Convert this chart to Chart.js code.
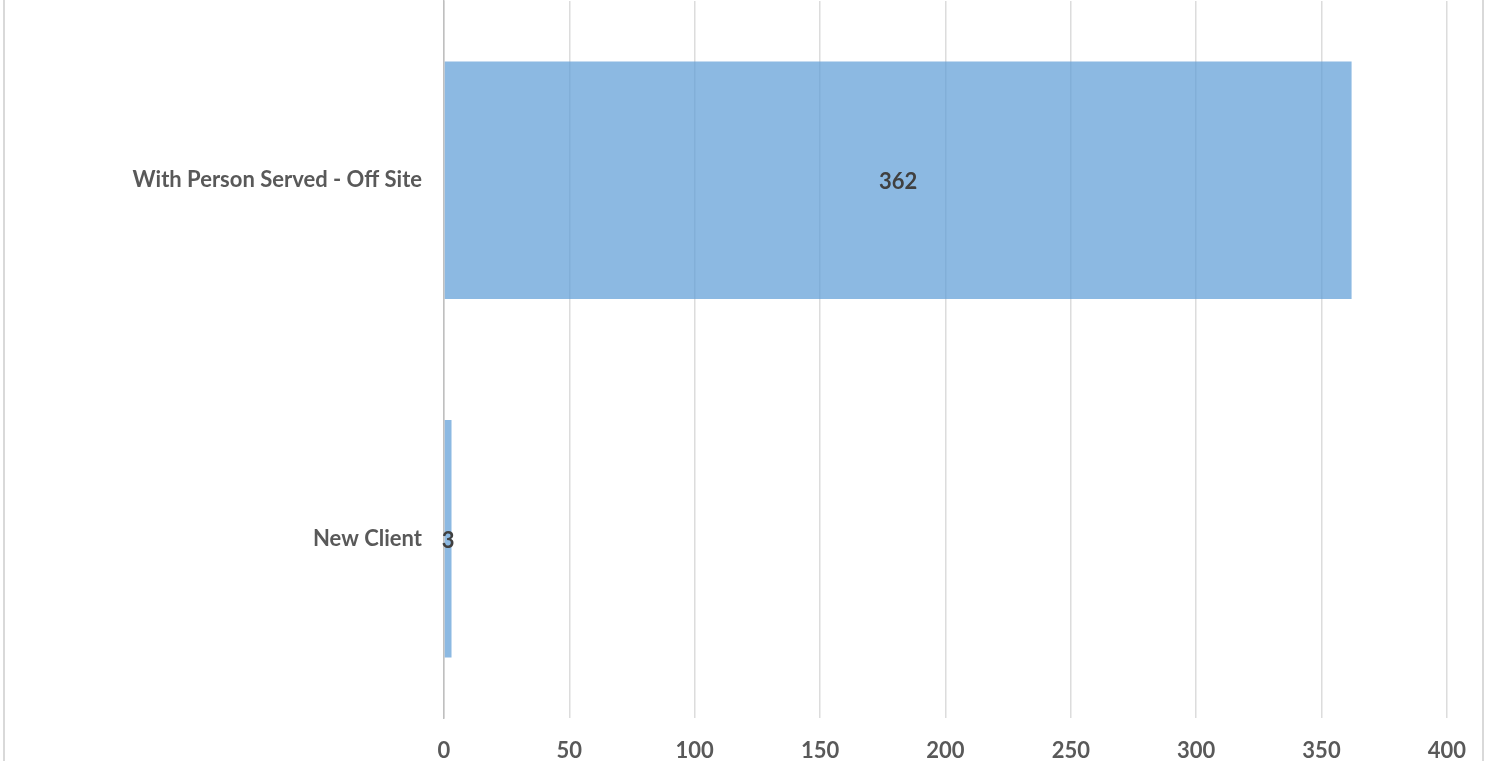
<!DOCTYPE html>
<html>
<head>
  <title>Contacts by Type</title>
  <script src="https://cdn.jsdelivr.net/npm/chart.js"></script>
  <style>
    html, body { margin: 0; padding: 0; background: #fff; }
    #wrap { position: relative; width: 1486px; height: 761px; }
  </style>
</head>
<body>
  <div id="wrap"><canvas id="contactChart"></canvas></div>

  <script>
    // --- Data ---
    const categories = ['With Person Served - Off Site', 'New Client'];
    const counts = [362, 3];
    const axisMin = 0;
    const axisMax = 400;
    const axisStep = 50;

    const labelFont = { family: 'Lato, "Open Sans", sans-serif', size: 22, weight: 'bold' };

    // value labels centred on each bar
    const barValues = {
      id: 'barValues',
      afterDatasetsDraw(chart) {
        const ctx = chart.ctx;
        const meta = chart.getDatasetMeta(0);
        ctx.save();
        ctx.font = `bold ${labelFont.size}px ${labelFont.family}`;
        ctx.fillStyle = '#404040';
        ctx.textAlign = 'center';
        ctx.textBaseline = 'middle';
        meta.data.forEach((bar, i) => {
          const p = bar.getProps(['x', 'y', 'base'], true);
          ctx.fillText(String(counts[i]), (p.x + p.base) / 2, p.y + 2);
        });
        ctx.restore();
      }
    };

    // thin frame lines at the left and right edges
    const frame = {
      id: 'frame',
      beforeDraw(chart) {
        const ctx = chart.ctx;
        ctx.save();
        ctx.strokeStyle = '#d9d9d9';
        ctx.lineWidth = 2;
        ctx.beginPath();
        ctx.moveTo(4, 0); ctx.lineTo(4, chart.height);
        ctx.moveTo(1483, 0); ctx.lineTo(1483, chart.height);
        ctx.stroke();
        ctx.restore();
      }
    };

    const ctx = document.getElementById('contactChart').getContext('2d');
    new Chart(ctx, {
      type: 'bar',
      data: {
        labels: categories,
        datasets: [{
          data: counts,
          backgroundColor: 'rgba(91,155,213,0.7)',
          borderWidth: 0,
          barPercentage: 1,
          categoryPercentage: 0.663
        }]
      },
      plugins: [frame, barValues],
      options: {
        indexAxis: 'y',
        responsive: true,
        maintainAspectRatio: false,
        animation: false,
        layout: { padding: { top: 1, right: 37, left: 0, bottom: 0 } },
        plugins: {
          legend: { display: false },
          tooltip: { enabled: false }
        },
        scales: {
          x: {
            min: axisMin,
            max: axisMax,
            ticks: {
              stepSize: axisStep,
              color: '#595959',
              font: labelFont,
              padding: 20
            },
            grid: { color: '#dcdcdc', lineWidth: 1.5, drawTicks: false },
            border: { display: false },
            afterFit: s => { s.height = 43; }
          },
          y: {
            ticks: {
              color: '#595959',
              font: labelFont,
              padding: 22
            },
            grid: { display: false, drawTicks: false },
            border: { display: true, color: '#bfbfbf', width: 1.5 },
            afterFit: s => {
              s.width = 444;
              s.paddingTop = 0;
              s.paddingBottom = 0;
            }
          }
        }
      }
    });
  </script>
</body>
</html>
